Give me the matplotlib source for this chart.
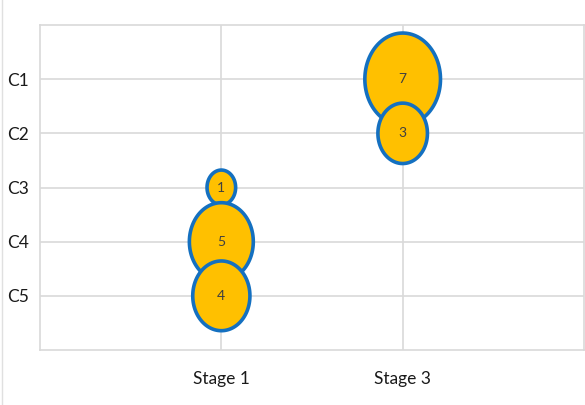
import matplotlib
matplotlib.use("Agg")
import matplotlib.pyplot as plt
import numpy as np
from matplotlib.path import Path
from matplotlib.lines import Line2D

# Categories and bubble data
stages = ['Stage 1', 'Stage 3']
rows = ['C1', 'C2', 'C3', 'C4', 'C5']
bubble_stage = ['Stage 3', 'Stage 3', 'Stage 1', 'Stage 1', 'Stage 1']
bubble_row = ['C1', 'C2', 'C3', 'C4', 'C5']
bubble_value = [7, 3, 1, 5, 4]

plt.rcParams['font.family'] = ['Lato', 'DejaVu Sans']

fig = plt.figure(figsize=(5.85, 4.05), dpi=100)
ax = fig.add_axes([40 / 585, 55 / 405, 544 / 585, 325 / 405])

# slightly tall ellipse used as the bubble marker
t = np.linspace(0, 2 * np.pi, 120)
ellipse = Path(np.column_stack([0.82 * np.cos(t), np.sin(t)]), closed=True)

xs = [stages.index(s) + 1 for s in bubble_stage]
ys = [rows.index(r) + 1 for r in bubble_row]
sizes = [v * 630 for v in bubble_value]

ax.scatter(xs, ys, s=sizes, marker=ellipse, facecolor='#FFC000',
           edgecolor='#1470C0', linewidth=2.6, zorder=3, clip_on=False)

for x, y, v in zip(xs, ys, bubble_value):
    ax.text(x, y, str(v), ha='center', va='center', fontsize=10,
            color='#404040', zorder=4)

ax.set_xlim(0, 3)
ax.set_ylim(6, 0)
ax.set_xticks(range(1, len(stages) + 1))
ax.set_xticklabels(stages)
ax.set_yticks(range(1, len(rows) + 1))
ax.set_yticklabels(rows)

ax.tick_params(axis='both', length=0, labelsize=12.5, colors='#1A1A1A')
ax.tick_params(axis='x', pad=15)
ax.tick_params(axis='y', pad=8)

ax.grid(True, color='#D9D9D9', linewidth=1.2)
ax.set_axisbelow(True)
for side in ax.spines.values():
    side.set_color('#D9D9D9')
    side.set_linewidth(1.2)

# thin border line at the far left edge
fig.add_artist(Line2D([1.5 / 585, 1.5 / 585], [0, 1], color='#E0E0E0',
                      linewidth=1, transform=fig.transFigure))

fig.savefig('out.png', dpi=100)
